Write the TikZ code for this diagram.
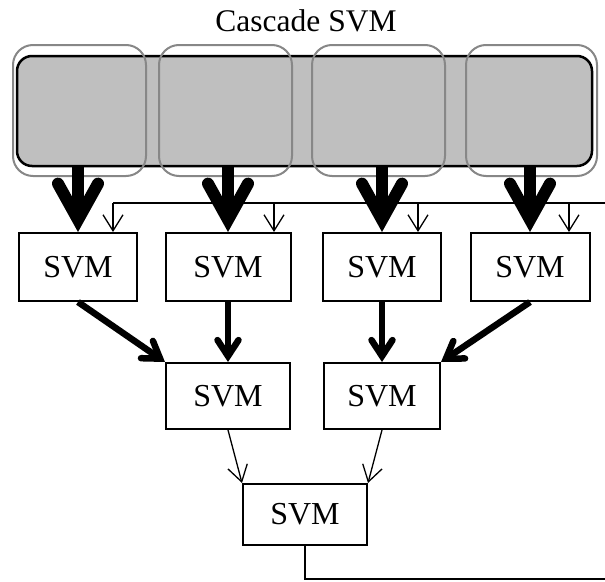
\documentclass[tikz,border=0pt]{standalone}
\usepackage{fontspec}
\setmainfont{Liberation Serif}
\usetikzlibrary{arrows.meta}
\begin{document}
\begin{tikzpicture}[x=1pt,y=-1pt,
  svmbox/.style={draw=black, line width=2pt, minimum height=68pt, inner sep=0pt, font=\fontsize{32}{36}\selectfont},
  grayring/.style={draw=black!47, line width=2pt, rounded corners=20pt, minimum width=133pt, minimum height=131pt, inner sep=0pt},
  bigarrow/.style={line width=12pt, -{Straight Barb[length=36pt, width=40pt, line cap=round]}},
  midarrow/.style={line width=6.5pt, -{Straight Barb[length=16pt, width=21pt, line cap=round]}},
  thinarrow/.style={line width=1.3pt, -{Straight Barb[length=16pt, width=20pt]}},
  plainline/.style={line width=1.3pt}
]
\useasboundingbox (0,0) rectangle (605,581);
\node (title) at (306,21) {\fontsize{31.5}{36}\selectfont Cascade SVM};
% data block
\node[draw=black, line width=2.5pt, fill=black!25, rounded corners=15pt, minimum width=575pt, minimum height=110pt, inner sep=0pt] (data) at (304.5,111) {};
\node[grayring] (g1) at (79.5,110.5) {};
\node[grayring] (g2) at (225.5,110.5) {};
\node[grayring] (g3) at (378.5,110.5) {};
\node[grayring, minimum width=131pt] (g4) at (531.5,110.5) {};
% first layer
\node[svmbox, minimum width=118pt] (s1) at (78,267) {SVM};
\node[svmbox, minimum width=125pt] (s2) at (228,267) {SVM};
\node[svmbox, minimum width=118pt] (s3) at (382,267) {SVM};
\node[svmbox, minimum width=119pt] (s4) at (530,267) {SVM};
% second layer
\node[svmbox, minimum width=124pt, minimum height=66pt] (m1) at (228,396) {SVM};
\node[svmbox, minimum width=116pt, minimum height=66pt] (m2) at (382,396) {SVM};
% third layer
\node[svmbox, minimum width=124pt, minimum height=61pt] (b) at (305,514.5) {SVM};
% thick arrows from data
\foreach \i in {1,2,3,4}{
  \draw[bigarrow] (s\i.north |- data.south) -- (s\i.north);
}
% feedback line
\coordinate (fbR) at (605,203);
\coordinate (fbL) at (113,203);
\coordinate (f2) at (274,203);
\coordinate (f3) at (418,203);
\coordinate (f4) at (569,203);
\draw[plainline] (fbR) -- (fbL);
\draw[thinarrow] (fbL) -- (fbL |- s1.north);
\draw[thinarrow] (f2) -- (f2 |- s2.north);
\draw[thinarrow] (f3) -- (f3 |- s3.north);
\draw[thinarrow] (f4) -- (f4 |- s4.north);
% middle arrows
\draw[midarrow] (s1.south) -- (m1.north west);
\draw[midarrow] (s2.south) -- (m1.north);
\draw[midarrow] (s3.south) -- (m2.north);
\draw[midarrow] (s4.south) -- (m2.north east);
% thin arrows to final
\draw[thinarrow] (m1.south) -- (b.north west);
\draw[thinarrow] (m2.south) -- (b.north east);
% output line
\coordinate (outR) at (605,579);
\draw[plainline] (b.south) |- (outR);
\end{tikzpicture}
\end{document}
